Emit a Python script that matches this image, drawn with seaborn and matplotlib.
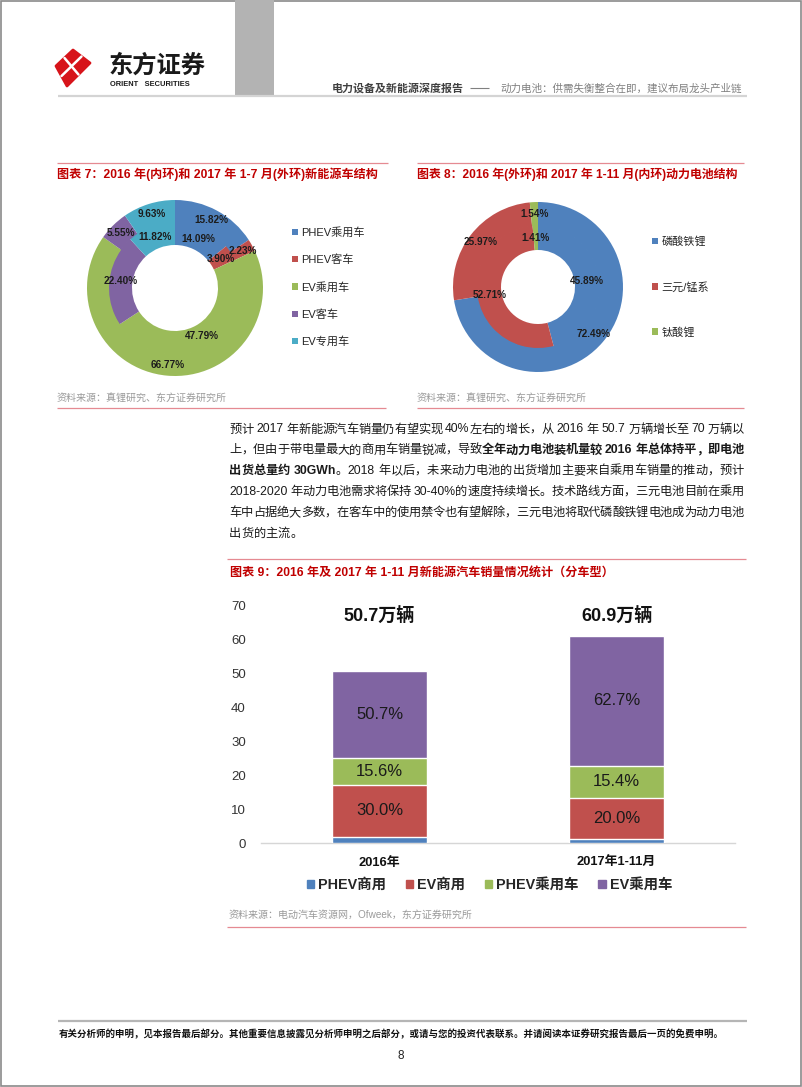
import numpy as np
import pandas as pd
import matplotlib
matplotlib.use('Agg')
import matplotlib.pyplot as plt
import seaborn as sns
from matplotlib.patches import Rectangle, Polygon

# ---------------- data ----------------
fig7_labels = ['PHEV乘用车', 'PHEV客车', 'EV乘用车', 'EV客车', 'EV专用车']
fig7_outer_2017 = [15.82, 2.23, 66.77, 5.55, 9.63]
fig7_inner_2016 = [14.09, 3.90, 47.79, 22.40, 11.82]

fig8_labels = ['磷酸铁锂', '三元/锰系', '钛酸锂']
fig8_outer_2016 = [72.49, 25.97, 1.54]
fig8_inner_2017 = [45.89, 52.71, 1.41]

fig9_categories = ['2016年', '2017年1-11月']
fig9_series = ['PHEV商用', 'EV商用', 'PHEV乘用车', 'EV乘用车']
phev_commercial = [1.9, 1.1]
ev_commercial = [15.2, 12.2]
phev_passenger = [7.9, 9.4]
ev_passenger = [25.7, 38.2]
ev_commercial_share = ['30.0%', '20.0%']
phev_passenger_share = ['15.6%', '15.4%']
ev_passenger_share = ['50.7%', '62.7%']
fig9_totals = ['50.7万辆', '60.9万辆']
fig9_yticks = [0, 10, 20, 30, 40, 50, 60, 70]

pie_colors5 = ['#4F81BD', '#C0504D', '#9BBB59', '#8064A2', '#4BACC6']
pie_colors3 = ['#4F81BD', '#C0504D', '#9BBB59']
bar_colors = ['#4F81BD', '#C0504D', '#9BBB59', '#8064A2']

# ---------------- setup ----------------
sns.set_theme(style='white')
plt.rcParams['font.family'] = ['Liberation Sans', 'Noto Sans CJK SC', 'DejaVu Sans']

W, H = 802, 1087
fig = plt.figure(figsize=(W / 100, H / 100), dpi=100)
fig.patch.set_facecolor('white')
bg = fig.add_axes([0, 0, 1, 1])
bg.set_xlim(0, W)
bg.set_ylim(H, 0)
bg.axis('off')
renderer = fig.canvas.get_renderer()


def px_axes(l, t, w, h):
    return fig.add_axes([l / W, 1 - (t + h) / H, w / W, h / H])


def hline(y, x0, x1, color, lw):
    bg.plot([x0, x1], [y, y], color=color, lw=lw, solid_capstyle='butt')


RED = '#C00000'
GRAY_SRC = '#9A9A9A'

# page border
bg.add_patch(Rectangle((0.5, 0.5), W - 1.5, H - 1.5, fill=False, ec='#8A8A8A', lw=1.2))

# ---------------- header ----------------
bg.add_patch(Rectangle((235, 0), 39, 96, color='#B3B3B3', lw=0))
bg.add_patch(Polygon([(73, 50), (90, 63), (67, 86), (56, 66)], closed=True,
                     fc='#D7141A', ec='#D7141A', lw=2.0, joinstyle='round'))
bg.plot([81.5, 61.5], [56.5, 76], color='white', lw=1.8)
bg.plot([64.5, 78.5], [58, 74.5], color='white', lw=1.8)
bg.text(109, 65.5, '东方证券', fontsize=17.5, fontweight='bold', color='#1a1a1a',
        va='center', ha='left')
bg.text(110, 85, 'ORIENT   SECURITIES', fontsize=5.4, fontweight='bold',
        color='#1a1a1a', va='center', ha='left')
bg.text(332, 88, '电力设备及新能源深度报告', fontsize=7.9, fontweight='bold',
        color='#404040', va='center', ha='left')
hline(88, 470, 489, '#808080', 0.8)
bg.text(742, 88, '动力电池：供需失衡整合在即，建议布局龙头产业链', fontsize=7.6,
        color='#808080', va='center', ha='right')
hline(96, 58, 747, '#D4D4D4', 1.6)

# ---------------- section titles / sources ----------------
LINE_RED = '#E58A92'
hline(163, 57, 388, LINE_RED, 0.9)
hline(163, 417, 744, LINE_RED, 0.9)
bg.text(57, 174, '图表 7：2016 年(内环)和 2017 年 1-7 月(外环)新能源车结构',
        fontsize=8.7, fontweight='bold', color=RED, va='center', ha='left')
bg.text(417, 174, '图表 8：2016 年(外环)和 2017 年 1-11 月(内环)动力电池结构',
        fontsize=8.6, fontweight='bold', color=RED, va='center', ha='left')
bg.text(57, 399, '资料来源：真锂研究、东方证券研究所', fontsize=7.2, color=GRAY_SRC,
        va='center', ha='left')
bg.text(417, 399, '资料来源：真锂研究、东方证券研究所', fontsize=7.2, color=GRAY_SRC,
        va='center', ha='left')
hline(408, 57, 386, LINE_RED, 0.9)
hline(408, 417, 744, LINE_RED, 0.9)


# ---------------- donuts ----------------
def donut(cx, cy, outer_vals, inner_vals, colors, r_out, w_out, w_in):
    R = 100
    ax = px_axes(cx - R, cy - R, 2 * R, 2 * R)
    r_in = r_out - w_out
    ax.pie(inner_vals, radius=r_in + 0.8, colors=colors, startangle=90,
           counterclock=False, wedgeprops=dict(width=w_in + 0.8, linewidth=0))
    wedges, _ = ax.pie(outer_vals, radius=r_out, colors=colors, startangle=90,
                       counterclock=False,
                       wedgeprops=dict(width=w_out, linewidth=0))
    ax.set_xlim(-R, R)
    ax.set_ylim(-R, R)
    ax.set_aspect('equal')
    ax.axis('off')
    for vals, rmid in ((outer_vals, r_out - w_out / 2), (inner_vals, r_in - w_in / 2)):
        tot = sum(vals)
        cum = np.cumsum(vals) - np.array(vals) / 2
        for v, c in zip(vals, cum):
            th = np.deg2rad(90 - 360 * c / tot)
            ax.text(rmid * np.cos(th), rmid * np.sin(th), f'{v:.2f}%',
                    ha='center', va='center', fontsize=7.2, fontweight='bold',
                    color='#1c1c1c')
    return wedges


w7 = donut(175, 288, fig7_outer_2017, fig7_inner_2016, pie_colors5, 88, 22, 23)
w8 = donut(538, 287, fig8_outer_2016, fig8_inner_2017, pie_colors3, 85, 24, 24)

fig.legend(w7, fig7_labels, loc='center left', bbox_to_anchor=(292 / W, 1 - 287 / H),
           frameon=False, fontsize=8, handlelength=0.5, handleheight=0.5,
           handletextpad=0.35, labelspacing=1.49, borderpad=0, borderaxespad=0)
fig.legend(w8, fig8_labels, loc='center left', bbox_to_anchor=(652 / W, 1 - 287 / H),
           frameon=False, fontsize=8, handlelength=0.5, handleheight=0.5,
           handletextpad=0.35, labelspacing=3.1, borderpad=0, borderaxespad=0)

# ---------------- body paragraph (justified) ----------------
space_w = {}


def text_w(s, size, weight):
    t = bg.text(0, 0, s, fontsize=size, fontweight=weight)
    w = t.get_window_extent(renderer).width
    t.remove()
    return w


def draw_line(runs, x0, x1, y, size, justify=True, color='#1a1a1a'):
    # latin words keep together; CJK characters are spaced individually
    tokens = []
    for s, w in runs:
        buf = ''
        for ch in s:
            if ord(ch) < 0x2E80 and ch != ' ':
                buf += ch
            else:
                if buf:
                    tokens.append((buf, w))
                    buf = ''
                tokens.append((ch, w))
        if buf:
            tokens.append((buf, w))
    texts, widths = [], []
    for tok, w in tokens:
        if tok == ' ':
            key = (size, w)
            if key not in space_w:
                space_w[key] = text_w('a a', size, w) - text_w('aa', size, w)
            widths.append(space_w[key])
            texts.append(None)
        else:
            t = bg.text(0, y, tok, fontsize=size, fontweight=w, va='center',
                        ha='left', color=color)
            widths.append(t.get_window_extent(renderer).width)
            texts.append(t)
    total = sum(widths)
    extra = (x1 - x0 - total) / (len(tokens) - 1) if justify else 0
    x = x0
    for t, wd in zip(texts, widths):
        if t is not None:
            t.set_x(x)
        x += wd + extra


para = [
    [('预计 2017 年新能源汽车销量仍有望实现 40%左右的增长，从 2016 年 50.7 万辆增长至 70 万辆以', 'normal')],
    [('上，但由于带电量最大的商用车销量锐减，导致', 'normal'),
     ('全年动力电池装机量较 2016 年总体持平，即电池', 'bold')],
    [('出货总量约 30GWh', 'bold'),
     ('。2018 年以后，未来动力电池的出货增加主要来自乘用车销量的推动，预计', 'normal')],
    [('2018-2020 年动力电池需求将保持 30-40%的速度持续增长。技术路线方面，三元电池目前在乘用', 'normal')],
    [('车中占据绝大多数，在客车中的使用禁令也有望解除，三元电池将取代磷酸铁锂电池成为动力电池', 'normal')],
    [('出货的主流。', 'normal')],
]
for i, runs in enumerate(para):
    draw_line(runs, 229, 744, 429.5 + 20.9 * i, 8.8, justify=(i < len(para) - 1))

# ---------------- figure 9 ----------------
hline(559, 227, 746, LINE_RED, 0.9)
bg.text(230, 573, '图表 9：2016 年及 2017 年 1-11 月新能源汽车销量情况统计（分车型）',
        fontsize=8.7, fontweight='bold', color=RED, va='center', ha='left')

ax = px_axes(261, 605, 474, 238)
layers = [phev_commercial, ev_commercial, phev_passenger, ev_passenger]
cums = np.cumsum(np.array(layers, dtype=float), axis=0)
for k in range(len(layers) - 1, -1, -1):
    df = pd.DataFrame({'cat': fig9_categories, 'val': cums[k]})
    sns.barplot(data=df, x='cat', y='val', color=bar_colors[k], width=0.4,
                saturation=1, errorbar=None, ax=ax, zorder=2 + (3 - k))
ax.set_xlim(-0.5, 1.5)
ax.set_ylim(0, 70)
ax.set_yticks(fig9_yticks)
ax.set_xlabel('')
ax.set_ylabel('')
ax.grid(False)
sns.despine(ax=ax, left=True, top=True, right=True)
ax.spines['bottom'].set_color('#D6D6D6')
ax.spines['bottom'].set_linewidth(1.0)
ax.tick_params(axis='y', length=0, pad=11, labelsize=9.5, labelcolor='#333333')
ax.tick_params(axis='x', length=0, pad=10, labelsize=9.3, labelcolor='#111111')
for lbl in ax.get_xticklabels():
    lbl.set_fontweight('bold')
ax.set_facecolor('none')

share_rows = [(1, ev_commercial_share), (2, phev_passenger_share), (3, ev_passenger_share)]
for k, labels in share_rows:
    for i, lab in enumerate(labels):
        mid = cums[k][i] - layers[k][i] / 2
        ax.text(i, mid, lab, ha='center', va='center', fontsize=12, color='#1a1a1a',
                zorder=10)
for i, lab in enumerate(fig9_totals):
    ax.text(i, 66.8, lab, ha='center', va='center', fontsize=13, fontweight='bold',
            color='#111111', zorder=10)

handles = [Rectangle((0, 0), 1, 1, color=c) for c in bar_colors]
fig.legend(handles, fig9_series, loc='center', bbox_to_anchor=(489.5 / W, 1 - 885 / H),
           ncol=4, frameon=False, prop={'weight': 'bold', 'size': 10.4},
           handlelength=0.5, handleheight=0.5, handletextpad=0.3,
           columnspacing=1.35, borderpad=0, borderaxespad=0)

bg.text(229, 915, '资料来源：电动汽车资源网，Ofweek，东方证券研究所', fontsize=7.2,
        color=GRAY_SRC, va='center', ha='left')
hline(927, 227, 746, LINE_RED, 0.9)

# ---------------- footer ----------------
hline(1021, 58, 747, '#B5B5B5', 1.6)
bg.text(59, 1034, '有关分析师的申明，见本报告最后部分。其他重要信息披露见分析师申明之后部分，或请与您的投资代表联系。并请阅读本证券研究报告最后一页的免费申明。',
        fontsize=6.8, fontweight='bold', color='#111111', va='center', ha='left')
bg.text(401, 1056, '8', fontsize=8.5, color='#222222', va='center', ha='center')

fig.savefig('out.png', dpi=100, facecolor='white')
